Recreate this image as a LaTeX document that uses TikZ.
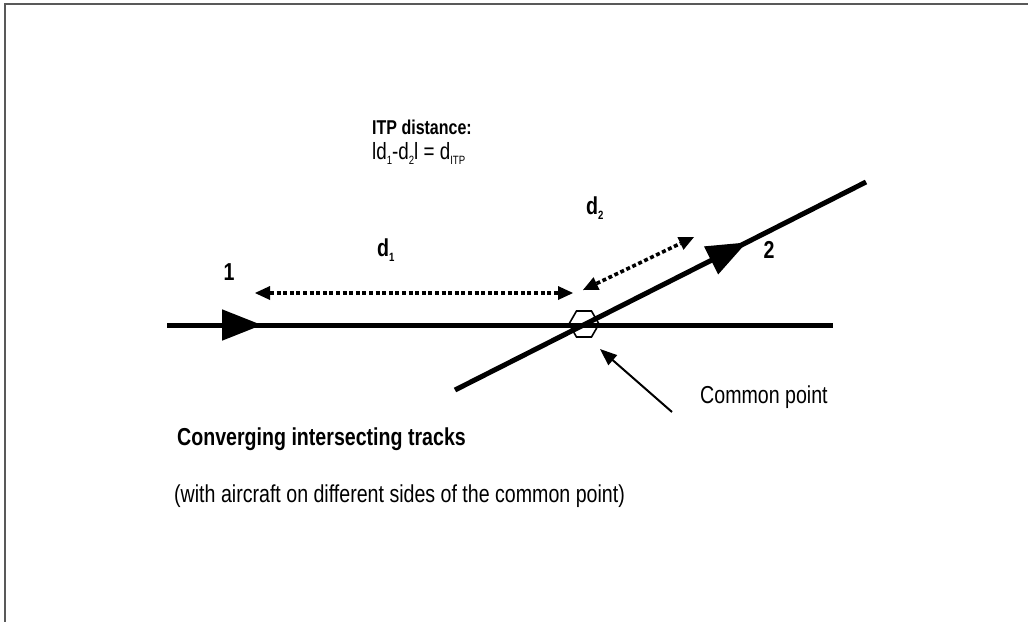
\documentclass[tikz,border=0pt]{standalone}
\usepackage{fontspec}
\setmainfont{Liberation Sans}[FakeStretch=0.8]
\usetikzlibrary{arrows.meta,shapes.geometric,decorations.markings}

\tikzset{
  frameline/.style={draw=black!65, line width=1.6pt},
  track/.style={line width=5pt},
  dirtip/.style={postaction={decorate, decoration={markings,
      mark=at position #1 with {\arrow{Triangle[length=40pt,width=30pt]}}}}},
  distline/.style={line width=3.6pt, dash pattern=on 4pt off 2.6pt,
      {Triangle[length=15pt,width=14pt,line width=0pt]}-{Triangle[length=15pt,width=14pt,line width=0pt]}},
  pointer/.style={line width=2pt, -{Triangle[length=17pt,width=13pt]}},
  lbl/.style={inner sep=0pt, font=\fontsize{24.5}{27}\selectfont},
  blbl/.style={lbl, font=\fontsize{24.5}{27}\selectfont\bfseries},
  slbl/.style={inner sep=0pt, font=\fontsize{23.5}{26}\selectfont},
  sblbl/.style={slbl, font=\fontsize{20}{23}\selectfont\bfseries},
  hexmark/.style={regular polygon, regular polygon sides=6, minimum size=30pt,
      inner sep=0pt, draw, line width=1.6pt},
}

\newcommand{\sbs}[1]{\raisebox{-0.4ex}{\fontsize{12}{13}\selectfont #1}}

\begin{document}
\begin{tikzpicture}[x=1pt,y=-1pt]
  \useasboundingbox (0,0) rectangle (1028,622);

  % frame
  \draw[frameline] (1028,4) -- (5,4) -- (5,622);

  % track end points
  \coordinate (t1s) at (167,325);
  \coordinate (t1e) at (833,325);
  \coordinate (t2s) at (455,390);
  \coordinate (t2e) at (866,182);

  % common point marker
  \node[hexmark] (cp) at (584,324) {};

  % tracks with direction tips
  \draw[track, dirtip=95pt] (t1s) -- (t1e);
  \draw[track, dirtip=327pt] (t2s) -- (t2e);

  % distance arrows
  \coordinate (d1a) at (255,293);
  \coordinate (d1b) at (573,293);
  \coordinate (d2a) at (583,290);
  \coordinate (d2b) at (694,237);
  \draw[distline] (d1a) -- (d1b);
  \draw[distline] (d2a) -- (d2b);

  % pointer to the common point
  \node[lbl, anchor=west] (cptext) at (700,397) {Common point};
  \coordinate (ptail) at (672,412);
  \coordinate (phead) at (600,349);
  \draw[pointer] (ptail) -- (phead);

  % labels
  \node[blbl] (n1) at (229,272) {1};
  \node[blbl] (n2) at (769,250) {2};
  \node[blbl, anchor=west] (ld1) at (377,250) {d\sbs{1}};
  \node[blbl, anchor=west] (ld2) at (586,208) {d\sbs{2}};

  \node[sblbl, anchor=west] (itp) at (372,127) {ITP distance:};
  \node[slbl, anchor=west] (itpf) at (372,153)
       {ld\sbs{1}-d\sbs{2}l = d\sbs{ITP}};

  \node[blbl, anchor=west] (title) at (177,439) {Converging intersecting tracks};
  \node[lbl, anchor=west] (note) at (174,496)
       {(with aircraft on different sides of the common point)};
\end{tikzpicture}
\end{document}
